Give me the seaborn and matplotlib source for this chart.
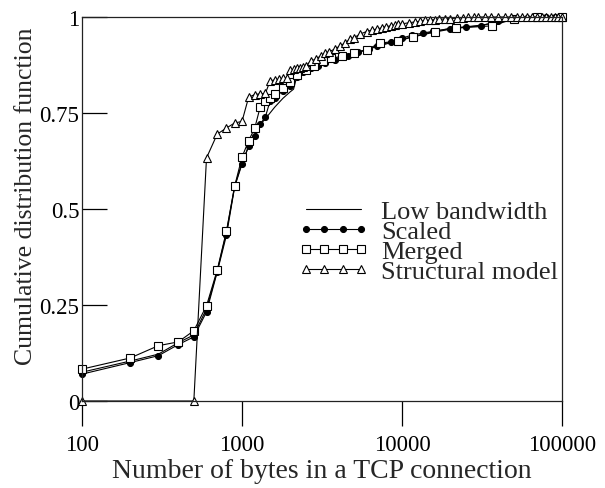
import numpy as np
import pandas as pd
import matplotlib
matplotlib.use("Agg")
import matplotlib.pyplot as plt
import seaborn as sns

# Low bandwidth (plain line)
low_x = [100, 200, 300, 400, 500, 600, 700, 800, 900, 1000, 1100, 1200, 1300,
         1400, 1600, 1800, 2000, 2100, 2200, 2500, 3000, 4000, 5000, 6000,
         8000, 10000, 15000, 20000, 30000, 40000, 50000, 100000]
low_y = [0.075, 0.104, 0.122, 0.152, 0.172, 0.240, 0.338, 0.440, 0.560, 0.620,
         0.662, 0.690, 0.720, 0.735, 0.765, 0.788, 0.805, 0.812, 0.845, 0.860,
         0.875, 0.893, 0.905, 0.915, 0.930, 0.942, 0.960, 0.970, 0.978, 0.985,
         0.995, 1.0]

# Scaled (filled circles)
scaled_x = [100, 200, 300, 400, 500, 600, 700, 800, 900, 1000, 1100, 1200,
            1300, 1400, 1500, 1600, 1800, 2000, 2200, 2400, 2700, 3000, 3300,
            3800, 4600, 5300, 6200, 7000, 8500, 10000, 11600, 13500, 15700,
            20000, 25000, 31300, 40000, 50000, 60000, 70000, 80000, 90000,
            100000]
scaled_y = [0.070, 0.100, 0.118, 0.147, 0.167, 0.232, 0.336, 0.432, 0.558,
            0.617, 0.665, 0.691, 0.721, 0.740, 0.782, 0.790, 0.808, 0.821,
            0.843, 0.856, 0.866, 0.873, 0.880, 0.889, 0.899, 0.908, 0.917,
            0.925, 0.935, 0.945, 0.953, 0.958, 0.963, 0.970, 0.974, 0.977,
            0.990, 0.996, 0.998, 0.999, 1.0, 1.0, 1.0]

# Merged (open squares)
merged_x = [100, 200, 300, 400, 500, 600, 700, 800, 900, 1000, 1100, 1200,
            1300, 1400, 1500, 1600, 1800, 2000, 2200, 2500, 2800, 3200, 3600,
            4200, 5000, 6000, 7300, 9400, 11700, 16100, 21800, 36500, 50000,
            70000, 100000]
merged_y = [0.083, 0.112, 0.144, 0.154, 0.183, 0.248, 0.341, 0.443, 0.560,
            0.635, 0.678, 0.710, 0.766, 0.780, 0.790, 0.800, 0.815, 0.830,
            0.848, 0.862, 0.872, 0.885, 0.892, 0.898, 0.905, 0.915, 0.932,
            0.9375, 0.948, 0.961, 0.971, 0.977, 0.995, 0.999, 1.0]

# Structural model (open triangles)
struct_x = [100, 500, 600, 700, 800, 900, 1000, 1100, 1200, 1300, 1400, 1500,
            1600, 1700, 1800, 1900, 2000, 2100, 2200, 2300, 2400, 2500, 2700,
            2900, 3100, 3300, 3500, 3800, 4100, 4400, 4700, 5000, 5500, 6000,
            6500, 7000, 7500, 8000, 8500, 9000, 9500, 10000, 11000, 12000,
            13000, 14000, 15000, 16000, 17000, 18500, 20000, 22000, 24000,
            26000, 28000, 30000, 33000, 36000, 40000, 44000, 48000, 52000,
            56000, 60000, 65000, 70000, 75000, 80000, 85000, 90000, 95000,
            100000]
struct_y = [0.0, 0.0, 0.633, 0.695, 0.711, 0.724, 0.728, 0.791, 0.798, 0.800,
            0.801, 0.834, 0.836, 0.838, 0.840, 0.842, 0.862, 0.864, 0.866,
            0.868, 0.870, 0.872, 0.886, 0.890, 0.899, 0.905, 0.910, 0.916,
            0.925, 0.932, 0.942, 0.946, 0.956, 0.962, 0.966, 0.969, 0.972,
            0.975, 0.977, 0.979, 0.981, 0.982, 0.985, 0.987, 0.989, 0.991,
            0.992, 0.993, 0.994, 0.995, 0.996, 0.997, 0.998, 0.999, 0.999,
            1.0, 1.0, 1.0, 1.0, 1.0, 1.0, 1.0, 1.0, 1.0, 1.0, 1.0, 1.0, 1.0,
            1.0, 1.0, 1.0, 1.0]

x_ticks = [100, 1000, 10000, 100000]
y_ticks = [0, 0.25, 0.5, 0.75, 1]
y_tick_labels = ["0", "0.25", "0.5", "0.75", "1"]


def main():
    sns.set_theme(style="white")
    plt.rcParams["font.family"] = ["Liberation Serif", "DejaVu Serif"]
    plt.rcParams["font.size"] = 16

    fig = plt.figure(figsize=(6.05, 4.89), dpi=100)
    ax = fig.add_axes([82 / 605, 87 / 489, 480 / 605, 384 / 489])

    common = dict(color="black", linewidth=0.8, clip_on=False,
                  markeredgecolor="black", markeredgewidth=0.8)

    sns.lineplot(x=low_x, y=low_y, ax=ax, label="Low bandwidth",
                 estimator=None, sort=False, **common)
    sns.lineplot(x=scaled_x, y=scaled_y, ax=ax, label="Scaled",
                 estimator=None, sort=False, marker="o", markersize=4.3,
                 markerfacecolor="black", **common)
    sns.lineplot(x=merged_x, y=merged_y, ax=ax, label="Merged",
                 estimator=None, sort=False, marker="s", markersize=5.5,
                 markerfacecolor="white", **common)
    sns.lineplot(x=struct_x, y=struct_y, ax=ax, label="Structural model",
                 estimator=None, sort=False, marker="^", markersize=6,
                 markerfacecolor="white", **common)

    ax.set_xscale("log")
    ax.set_xlim(100, 100000)
    ax.set_ylim(0, 1)
    ax.set_xticks(x_ticks)
    ax.set_xticklabels([str(v) for v in x_ticks])
    ax.minorticks_off()
    ax.set_yticks(y_ticks)
    ax.set_yticklabels(y_tick_labels)

    for side in ["left", "right", "top", "bottom"]:
        ax.spines[side].set_visible(True)
        ax.spines[side].set_color("#222222")
        ax.spines[side].set_linewidth(0.9)

    ax.tick_params(axis="y", direction="in", length=18, width=0.9,
                   pad=2, labelsize=16.5, colors="black", left=True)
    ax.tick_params(axis="x", direction="out", length=18, width=0.9,
                   pad=6, labelsize=16.5, colors="black", bottom=True)
    ax.grid(False)

    ax.set_xlabel("Number of bytes in a TCP connection", fontsize=20,
                  labelpad=2)
    ax.set_ylabel("Cumulative distribution function", fontsize=18.5)
    ax.yaxis.set_label_coords(-0.094, 0.536)

    ax.legend(loc="upper left", bbox_to_anchor=(0.45, 0.525), frameon=False,
              fontsize=19, numpoints=4, handlelength=2.7, handletextpad=0.45,
              labelspacing=-0.13, borderpad=0, borderaxespad=0)

    fig.savefig("out.png", dpi=100)


if __name__ == "__main__":
    main()
